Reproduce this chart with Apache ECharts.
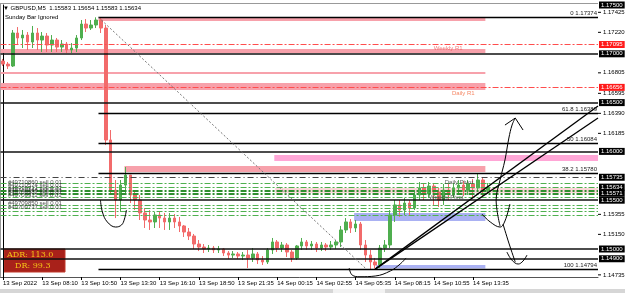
<!DOCTYPE html>
<html>
<head>
<meta charset="utf-8">
<script src="https://cdn.jsdelivr.net/npm/echarts@6/dist/echarts.min.js"></script>
<style>
html,body{margin:0;padding:0;background:#fff;}
#main{width:625px;height:293px;}
</style>
</head>
<body>
<div id="main"></div>
<script>
// ---- values (one candle = 20 min) ----
let timeLabels = ['13 Sep 2022', '13 Sep 08:10', '13 Sep 10:50', '13 Sep 13:30', '13 Sep 16:10', '13 Sep 18:50',
    '13 Sep 21:35', '14 Sep 00:15', '14 Sep 02:55', '14 Sep 05:35', '14 Sep 08:15', '14 Sep 10:55', '14 Sep 13:35'];
let firstOpen = 1.16926;
let closes = [1.16895, 1.16875, 1.17213, 1.17162, 1.17192, 1.17121, 1.17213, 1.17141, 1.17182, 1.17090,
    1.17141, 1.17069, 1.17100, 1.17039, 1.17059, 1.17162, 1.17305, 1.17264, 1.17295, 1.17346,
    1.17264, 1.16117, 1.15604, 1.15502, 1.15655, 1.15758, 1.15553, 1.15502, 1.15369, 1.15297,
    1.15277, 1.15348, 1.15317, 1.15277, 1.15317, 1.15277, 1.15236, 1.15174, 1.15133, 1.15051,
    1.15020, 1.15000, 1.15010, 1.14990, 1.15000, 1.14959, 1.14938, 1.14949, 1.14928, 1.14938,
    1.14908, 1.14949, 1.14887, 1.14867, 1.14990, 1.15072, 1.15010, 1.15041, 1.14969, 1.14908,
    1.15031, 1.15072, 1.15031, 1.15051, 1.15010, 1.15041, 1.15020, 1.15041, 1.15072, 1.15195,
    1.15277, 1.15215, 1.15256, 1.15041, 1.14938, 1.14867, 1.14836, 1.15010, 1.15041, 1.15348,
    1.15451, 1.15399, 1.15471, 1.15420, 1.15553, 1.15625, 1.15563, 1.15645, 1.15584, 1.15502,
    1.15604, 1.15553, 1.15625, 1.15655, 1.15604, 1.15666, 1.15625, 1.15707, 1.15604, 1.15634];
let highs = [1.16947, 1.16916, 1.17244, 1.17274, 1.17244, 1.17223, 1.17285, 1.17264, 1.17223, 1.17213,
    1.17192, 1.17162, 1.17141, 1.17121, 1.17110, 1.17192, 1.17346, 1.17356, 1.17346, 1.17374,
    1.17367, 1.17295, 1.16219, 1.15707, 1.15707, 1.15840, 1.15758, 1.15604, 1.15553, 1.15420,
    1.15399, 1.15379, 1.15389, 1.15369, 1.15369, 1.15358, 1.15328, 1.15246, 1.15215, 1.15154,
    1.15092, 1.15051, 1.15041, 1.15031, 1.15031, 1.15010, 1.14979, 1.14979, 1.14969, 1.14969,
    1.14990, 1.15010, 1.14969, 1.14928, 1.15010, 1.15113, 1.15092, 1.15072, 1.15061, 1.14990,
    1.15041, 1.15113, 1.15092, 1.15082, 1.15072, 1.15072, 1.15061, 1.15082, 1.15092, 1.15236,
    1.15317, 1.15307, 1.15297, 1.15277, 1.15092, 1.14990, 1.14908, 1.15041, 1.15092, 1.15399,
    1.15502, 1.15502, 1.15522, 1.15502, 1.15604, 1.15686, 1.15666, 1.15686, 1.15676, 1.15625,
    1.15666, 1.15666, 1.15676, 1.15707, 1.15696, 1.15707, 1.15717, 1.15778, 1.15727, 1.15676];
let lows = [1.16875, 1.16844, 1.16865, 1.17090, 1.17059, 1.17039, 1.17059, 1.17039, 1.17018, 1.17018,
    1.17018, 1.17018, 1.17018, 1.17008, 1.17008, 1.17018, 1.17141, 1.17223, 1.17244, 1.17264,
    1.17213, 1.16065, 1.15553, 1.15317, 1.15379, 1.15553, 1.15471, 1.15399, 1.15297, 1.15215,
    1.15195, 1.15215, 1.15215, 1.15195, 1.15195, 1.15215, 1.15174, 1.15123, 1.15092, 1.15000,
    1.14979, 1.14959, 1.14969, 1.14959, 1.14959, 1.14928, 1.14897, 1.14908, 1.14897, 1.14887,
    1.14805, 1.14867, 1.14846, 1.14836, 1.14846, 1.14949, 1.14969, 1.14969, 1.14918, 1.14867,
    1.14887, 1.14990, 1.14990, 1.14990, 1.14969, 1.14979, 1.14979, 1.14990, 1.15000, 1.15020,
    1.15164, 1.15164, 1.15174, 1.14990, 1.14867, 1.14794, 1.14800, 1.14805, 1.14969, 1.15010,
    1.15277, 1.15328, 1.15348, 1.15338, 1.15399, 1.15502, 1.15502, 1.15522, 1.15451, 1.15430,
    1.15451, 1.15502, 1.15522, 1.15563, 1.15543, 1.15553, 1.15522, 1.15584, 1.15533, 1.15563];

// levels
let roundLevels = [1.17, 1.165, 1.16, 1.155, 1.15, 1.149];
let pivotLevels = [1.17095, 1.16656];
let pivotNames = ['Weekly R1', 'Daily R1'];
let dailyPivot = 1.15735;
let orderLevels = [1.15676, 1.15635, 1.15594, 1.15563, 1.15533, 1.15451, 1.15420, 1.15389, 1.15348];
let orderNames = ['#49710860 sell 0.01', '#49710574 sell 0.01', '#49710321 sell 0.01', '#49710146 sell 0.01',
    '#49709982 sell 0.01', '#49709911 sell 0.01', '#49709850 sell 0.01', '#49709737 sell 0.01'];
let orderLabelPrices = [1.15686, 1.15655, 1.15625, 1.15604, 1.15584, 1.15553, 1.15471, 1.15430];
let fibRatios = ['0', '38.2', '50', '61.8', '100'];
let fibPrices = [1.17374, 1.15780, 1.16084, 1.16389, 1.14794];
let fibStart = 19.5;   // candle index of the swing high
let fibEnd = 74.2;     // candle index of the swing low

// zones (candle index / price)
let zoneStart = [19.5, -0.5, -0.5, -0.5, 55.4, 24.8, 55.6, 71.7, 76.2];
let zoneEnd = [98.5, 98.5, 98.5, 98.5, 121.5, 98.5, 121.5, 98.5, 98.5];
let zoneTop = [1.17367, 1.17049, 1.16813, 1.16701, 1.15963, 1.15850, 1.15625, 1.15369, 1.14836];
let zoneBottom = [1.17336, 1.17008, 1.16793, 1.16629, 1.15901, 1.15789, 1.15574, 1.15287, 1.14800];

// hand drawn objects (candle index, price)
let trendA = [[76.0, 1.14794], [121.5, 1.16465]];
let trendB = [[76.0, 1.14794], [121.5, 1.16342]];
let curveLeft = [[19.9, 1.15502], [20.3, 1.15379], [21.3, 1.15277], [23.0, 1.15225], [24.2, 1.15246], [24.8, 1.15307], [25.2, 1.15399]];
let curveLow = [[70.7, 1.14805], [71.3, 1.14733], [72.9, 1.14716], [76.0, 1.14723], [79.1, 1.14775], [81.1, 1.14846], [82.3, 1.14908]];
let arrowUp = [[101.5, 1.15236], [100.7, 1.15502], [101.5, 1.15707], [102.5, 1.15912], [103.3, 1.16137], [103.95, 1.16270], [104.6, 1.16342]];
let arrowHead = [[102.5, 1.16270], [104.6, 1.16342], [106.2, 1.16219]];
let checkV = [[97.8, 1.15358], [99.5, 1.15277], [101.5, 1.15225], [102.5, 1.15287], [103.5, 1.15461]];
let downStroke = [[102.1, 1.15256], [103.3, 1.15061], [104.6, 1.14867]];
let hookLow = [[102.9, 1.14969], [103.9, 1.14887], [105.2, 1.14846], [106.2, 1.14877], [107.0, 1.14938]];

// price scale on the right
let boxPrices = [1.175, 1.17, 1.165, 1.16, 1.15735, 1.15634, 1.15571, 1.155, 1.15, 1.149];
let redBoxPrices = [1.17095, 1.16656];
let scalePrices = [1.17425, 1.1722, 1.16805, 1.16595, 1.1639, 1.16185, 1.15355, 1.1515, 1.14735];

// ---- chart ----
let myChart = echarts.init(document.getElementById('main'));
const FONT = 'Liberation Sans';
const N = 122;
const X0 = -0.5, X1 = N - 0.5;
let cats = [];
for (let i = 0; i < N; i++) cats.push(String(i));
let candleData = closes.map((c, i) => [i === 0 ? firstOpen : closes[i - 1], c, lows[i], highs[i]]);
let zoneColors = ['#f7a1ab', '#f7a1ab', '#f7a1ab', '#f7a1ab', '#ffa6d6', '#f7a1ab', '#fbd6d9', '#aab1f3', '#aab1f3'];
let showTick = function (i) { return i % 8 === 0 && i / 8 < timeLabels.length; };

// horizontal segment from x a to x b at price p
function seg(a, b, p, lineStyle, label) {
    let first = {coord: [a, p], lineStyle: lineStyle};
    if (label) first.label = label;
    return [first, {coord: [b, p]}];
}

let levelLines = [];
roundLevels.forEach(p => levelLines.push(seg(X0, X1, p, {color: '#111', width: 1.5, type: 'solid'})));
pivotLevels.forEach(p => levelLines.push(seg(X0, X1, p, {color: '#ff4d4d', width: 1, type: [6, 2, 2, 2]})));
levelLines.push(seg(X0, X1, dailyPivot, {color: '#444', width: 1, type: [6, 3, 1, 3]}));
orderLevels.forEach((p, i) => levelLines.push(seg(X0, X1, p,
    {color: (i === 2 || i === 3) ? '#2f8f2f' : '#4fb04f', width: (i === 2 || i === 3) ? 2 : 1, type: [6, 2, 2, 2]})));
fibPrices.forEach((p, i) => levelLines.push(seg(fibStart, X1, p, {color: '#000', width: 1.3, type: 'solid'},
    {show: true, position: 'insideEndTop', distance: 1, formatter: fibRatios[i] + ' ' + p.toFixed(5),
        fontSize: 6, fontFamily: FONT, color: '#222'})));

let zones = zoneStart.map((s, i) => [
    {coord: [s, zoneTop[i]], itemStyle: {color: zoneColors[i], opacity: 1}},
    {coord: [zoneEnd[i], zoneBottom[i]]}
]);

// invisible carrier lines for the price-scale labels
let hidden = {color: 'rgba(0,0,0,0)', width: 1, type: 'solid'};
let scaleItems = [];
boxPrices.forEach(p => scaleItems.push(seg(X0, X1, p, hidden,
    {show: true, position: 'end', distance: 1, formatter: p.toFixed(5), backgroundColor: '#000',
        color: '#fff', padding: [1, 2, 0, 2], fontSize: 6, fontFamily: FONT})));
redBoxPrices.forEach(p => scaleItems.push(seg(X0, X1, p, hidden,
    {show: true, position: 'end', distance: 1, formatter: p.toFixed(5), backgroundColor: '#ff1a1a',
        color: '#fff', padding: [1, 2, 0, 2], fontSize: 6, fontFamily: FONT})));
scalePrices.forEach(p => scaleItems.push(seg(X0, X1, p, hidden,
    {show: true, position: 'end', distance: 0, formatter: '{t|}{v|' + p.toFixed(5) + '}',
        rich: {t: {width: 3, height: 1, backgroundColor: '#000'},
            v: {fontSize: 6, fontFamily: FONT, color: '#000', padding: [0, 0, 0, 2]}}})));

let textMarks = [
    [90.9, 1.17054, pivotNames[0], '#f05a5a'],
    [94.0, 1.16598, pivotNames[1], '#f2683c'],
    [93.1, 1.15686, 'Daily Pivot', '#333'],
    [90.5, 1.15533, 'Weekly Pivot', '#333']
];
let orderMarks = orderNames.map((t, i) => [0.9, orderLabelPrices[i], t]);

function stroke(data, opts) {
    return Object.assign({
        type: 'line', xAxisIndex: 1, data: data, symbol: 'none', smooth: 0.4, silent: true, z: 6,
        lineStyle: {color: '#000', width: 1}
    }, opts || {});
}

let option = {
    animation: false,
    backgroundColor: '#fff',
    grid: {left: 0, right: 27, top: 5, bottom: 16},
    xAxis: [{
        type: 'category',
        data: cats,
        boundaryGap: true,
        axisLine: {lineStyle: {color: '#555', width: 1}},
        axisTick: {show: true, alignWithLabel: true, interval: showTick, length: 3, lineStyle: {color: '#000'}},
        axisLabel: {
            interval: showTick, align: 'left', margin: 3, fontSize: 6, fontFamily: FONT, color: '#000',
            formatter: function (v, i) { return timeLabels[i / 8] || ''; }
        },
        splitLine: {show: false}
    }, {
        type: 'value', min: X0, max: X1, show: false
    }],
    yAxis: {
        type: 'value', position: 'right', min: 1.147131, max: 1.175, scale: true,
        axisLine: {show: true, lineStyle: {color: '#000', width: 1}},
        axisTick: {show: false}, axisLabel: {show: false}, splitLine: {show: false}
    },
    series: [
        {
            name: 'zones', type: 'line', xAxisIndex: 1, data: [], silent: true, z: 1,
            markArea: {silent: true, data: zones}
        },
        {
            name: 'GBPUSD', type: 'candlestick', data: candleData, barWidth: 3, z: 3,
            itemStyle: {color: '#4fae4f', color0: '#f26b6b', borderColor: '#4fae4f', borderColor0: '#f26b6b', borderWidth: 1}
        },
        {
            name: 'levels', type: 'line', xAxisIndex: 1, data: [], silent: true, z: 4, clip: false,
            markLine: {silent: true, symbol: 'none', label: {show: false}, data: levelLines}
        },
        stroke([[fibStart, fibPrices[0]], [fibEnd, fibPrices[4]]], {smooth: false, lineStyle: {color: '#777', width: 1, type: [2, 2]}}),
        stroke(trendA, {smooth: false, lineStyle: {color: '#000', width: 1.3}}),
        stroke(trendB, {smooth: false, lineStyle: {color: '#000', width: 1.3}}),
        stroke(curveLeft),
        stroke(curveLow),
        stroke(arrowUp),
        stroke(arrowHead, {smooth: false}),
        stroke(checkV),
        stroke(downStroke),
        stroke(hookLow),
        {
            name: 'texts', type: 'scatter', xAxisIndex: 1, symbolSize: 1, silent: true, z: 7,
            itemStyle: {color: 'rgba(0,0,0,0)'},
            data: textMarks.map(d => ({value: [d[0], d[1]], label: {color: d[3]}, name: d[2]})),
            label: {show: true, position: 'inside', formatter: '{b}', fontSize: 6, fontFamily: FONT}
        },
        {
            name: 'orders', type: 'scatter', xAxisIndex: 1, symbolSize: 1, silent: true, z: 7,
            itemStyle: {color: 'rgba(0,0,0,0)'},
            data: orderMarks.map(d => ({value: [d[0], d[1]], name: d[2]})),
            label: {show: true, position: 'right', distance: 0, formatter: '{b}', fontSize: 6, fontFamily: FONT, color: '#222'}
        },
        {
            name: 'scale', type: 'line', xAxisIndex: 1, data: [], silent: true, z: 10, clip: false,
            markLine: {silent: true, symbol: 'none', data: scaleItems}
        }
    ],
    graphic: [
        {type: 'line', shape: {x1: 0, y1: 3.5, x2: 598, y2: 3.5}, style: {stroke: '#999', lineWidth: 1}},
        {type: 'line', shape: {x1: 0.5, y1: 3, x2: 0.5, y2: 277}, style: {stroke: '#999', lineWidth: 1}},
        {type: 'text', left: 3, top: 5, style: {text: '\u25BC GBPUSD,M5  1.15583 1.15654 1.15583 1.15634', font: '6px ' + FONT, fill: '#000'}},
        {type: 'text', left: 5, top: 14, style: {text: 'Sunday Bar Ignored', font: '6px ' + FONT, fill: '#000'}},
        {type: 'rect', shape: {x: 4, y: 249, width: 61, height: 23}, style: {fill: '#a8211a', stroke: '#c0392b'}},
        {type: 'text', left: 7, top: 251, style: {text: 'ADR: 113.0', font: '8px "DejaVu Serif"', fill: '#f5c518'}},
        {type: 'text', left: 15, top: 262, style: {text: 'DR: 99.3', font: '8px "DejaVu Serif"', fill: '#f5c518'}},
        {type: 'rect', shape: {x: 0, y: 289, width: 625, height: 4}, style: {fill: '#d6d6d6'}},
        {type: 'rect', shape: {x: 333, y: 289, width: 52, height: 4}, style: {fill: '#f2f2f2'}}
    ]
};
myChart.setOption(option);
</script>
</body>
</html>
